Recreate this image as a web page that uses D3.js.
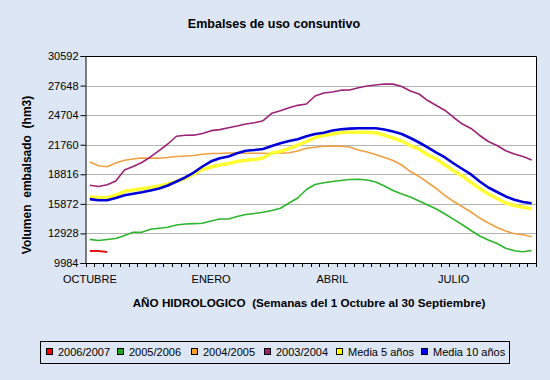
<!DOCTYPE html>
<html>
<head>
<meta charset="utf-8">
<title>Embalses de uso consuntivo</title>
<script src="https://cdn.jsdelivr.net/npm/d3@7/dist/d3.min.js"></script>
<style>
  body { margin: 0; background: #dce6f4; }
  svg { display: block; font-family: "Liberation Sans", Arial, sans-serif; }
</style>
</head>
<body>
<script>
// weeks of the hydrological year (1 Oct - 30 Sep)
const weeks = d3.range(52);
const monthLabels = ["OCTUBRE", "ENERO", "ABRIL", "JULIO"];
const monthWeeks = [0, 14, 28, 42];
const yTicks = [9984, 12928, 15872, 18816, 21760, 24704, 27648, 30592];

// volumen embalsado (hm3), one value per week
const v2006 = [11180, 11170, 11080];
const v2005 = [12340, 12220, 12320, 12420, 12720, 13040, 13040, 13340, 13440, 13540,
  13770, 13870, 13900, 13940, 14170, 14370, 14370, 14610, 14810, 14910,
  15030, 15210, 15430, 15960, 16460, 17300, 17800, 17980, 18100, 18200,
  18300, 18320, 18250, 18050, 17650, 17200, 16850, 16560, 16160, 15760,
  15360, 14860, 14320, 13790, 13220, 12670, 12270, 11930, 11450, 11200,
  11110, 11230];
const v2004 = [20040, 19670, 19570, 19940, 20210, 20340, 20440, 20410, 20420, 20490,
  20590, 20640, 20690, 20810, 20890, 20890, 20940, 20940, 20910, 20910,
  20910, 20890, 20910, 20960, 21140, 21400, 21510, 21600, 21630, 21610,
  21530, 21230, 21040, 20790, 20490, 20190, 19740, 19090, 18600, 18000,
  17400, 16700, 16110, 15590, 15060, 14460, 13970, 13520, 13170, 12890,
  12790, 12600];
const v2003 = [17730, 17600, 17770, 18150, 19240, 19590, 19990, 20540, 21180, 21830,
  22600, 22700, 22710, 22880, 23160, 23260, 23450, 23620, 23820, 23950,
  24150, 24890, 25150, 25450, 25680, 25810, 26610, 26910, 27010, 27190,
  27210, 27430, 27610, 27710, 27800, 27790, 27560, 27110, 26810, 26160,
  25670, 25170, 24470, 23820, 23380, 22680, 22080, 21680, 21160, 20840,
  20590, 20240];
const media5 = [16560, 16510, 16490, 16750, 17120, 17250, 17380, 17500, 17650, 17850,
  18100, 18400, 18850, 19290, 19540, 19740, 19890, 20090, 20210, 20290,
  20440, 20940, 21090, 21380, 21730, 22080, 22480, 22680, 22830, 22980,
  23000, 23000, 23000, 22950, 22700, 22430, 22130, 21680, 21330, 20740,
  20340, 19740, 19140, 18650, 18000, 17400, 16850, 16410, 15960, 15710,
  15530, 15390];
const media10 = [16340, 16230, 16230, 16460, 16730, 16880, 17030, 17200, 17400, 17700,
  18100, 18500, 18990, 19590, 20110, 20410, 20590, 20910, 21160, 21230,
  21330, 21630, 21900, 22130, 22300, 22600, 22830, 22960, 23180, 23300,
  23360, 23400, 23400, 23400, 23280, 23080, 22830, 22430, 21980, 21500,
  20970, 20490, 19890, 19340, 18800, 18100, 17500, 17050, 16610, 16280,
  16060, 15930];

const seriesNames = ["2006/2007", "2005/2006", "2004/2005", "2003/2004", "Media 5 años", "Media 10 años"];
const seriesValues = [v2006, v2005, v2004, v2003, media5, media10];
const seriesColors = ["#ff0000", "#1fa51f", "#f5a030", "#99206e", "#ffff00", "#0000ff"];
const lineColors = ["#e01818", "#2db52d", "#f0a040", "#9b2377", "#ffff33", "#0000d8"];
const lineWidths = [2, 1.6, 1.6, 1.6, 3.5, 2.6];

const W = 550, H = 380;
const plot = { left: 85.5, right: 536, top: 56, bottom: 263 };

const svg = d3.select("body").append("svg")
  .attr("width", W)
  .attr("height", H);

svg.append("rect")
  .attr("width", W).attr("height", H)
  .attr("fill", "#dce6f4");

// scales
const x = d3.scaleBand()
  .domain(weeks)
  .range([plot.left, plot.right]);

const y = d3.scaleLinear()
  .domain([yTicks[0], yTicks[yTicks.length - 1]])
  .range([plot.bottom, plot.top]);

// plot area
svg.append("rect")
  .attr("x", plot.left).attr("y", plot.top)
  .attr("width", plot.right - plot.left)
  .attr("height", plot.bottom - plot.top)
  .attr("fill", "#ffffff");

// gridlines
svg.append("g")
  .selectAll("line")
  .data(yTicks.slice(1, -1))
  .enter()
  .append("line")
  .attr("x1", plot.left).attr("x2", plot.right)
  .attr("y1", d => Math.round(y(d)) + 0.5)
  .attr("y2", d => Math.round(y(d)) + 0.5)
  .attr("stroke", "#b4b4b4")
  .attr("stroke-width", 1);

// lines
const line = d3.line()
  .x((d, i) => x(i) + x.bandwidth() / 2)
  .y(d => y(d));

svg.append("g")
  .selectAll("path")
  .data(seriesValues)
  .enter()
  .append("path")
  .attr("d", d => line(d))
  .attr("fill", "none")
  .attr("stroke", (d, i) => lineColors[i])
  .attr("stroke-width", (d, i) => lineWidths[i])
  .attr("stroke-linejoin", "round");

// plot border (top / right)
svg.append("path")
  .attr("d", `M${plot.left},${plot.top + 0.5}H${plot.right + 0.5}V${plot.bottom}`)
  .attr("fill", "none")
  .attr("stroke", "#000");

// y axis
const yAxis = d3.axisLeft(y)
  .tickValues(yTicks)
  .tickSize(5)
  .tickPadding(2)
  .tickFormat(d3.format("d"));

svg.append("g")
  .attr("transform", `translate(${plot.left},0)`)
  .call(yAxis)
  .call(g => g.selectAll("text").attr("font-size", 11).attr("fill", "#000").attr("font-family", null))
  .call(g => g.selectAll("line, path").attr("stroke", "#000"));

// x axis: ticks between weeks
const xTickPos = d3.range(53).map(i => plot.left + i * x.step());
const xg = svg.append("g");
xg.append("line")
  .attr("x1", plot.left).attr("x2", plot.right + 0.5)
  .attr("y1", plot.bottom + 0.5).attr("y2", plot.bottom + 0.5)
  .attr("stroke", "#000");
xg.selectAll(".tk")
  .data(xTickPos)
  .enter()
  .append("line")
  .attr("x1", d => Math.round(d) + 0.5).attr("x2", d => Math.round(d) + 0.5)
  .attr("y1", plot.bottom).attr("y2", plot.bottom + 4)
  .attr("stroke", "#000");

xg.selectAll("text")
  .data(monthLabels)
  .enter()
  .append("text")
  .attr("x", (d, i) => x(monthWeeks[i]) + x.bandwidth() / 2)
  .attr("y", 283)
  .attr("text-anchor", "middle")
  .attr("font-size", 11)
  .text(d => d);

// titles
svg.append("text")
  .attr("x", 274).attr("y", 28)
  .attr("text-anchor", "middle")
  .attr("font-size", 12.5)
  .attr("font-weight", "bold")
  .text("Embalses de uso consuntivo");

svg.append("text")
  .attr("x", 309).attr("y", 307)
  .attr("text-anchor", "middle")
  .attr("font-size", 11.7)
  .attr("font-weight", "bold")
  .style("white-space", "pre")
  .text("AÑO HIDROLOGICO  (Semanas del 1 Octubre al 30 Septiembre)");

svg.append("text")
  .attr("transform", "translate(31,175) rotate(-90)")
  .attr("text-anchor", "middle")
  .attr("font-size", 12)
  .attr("font-weight", "bold")
  .style("white-space", "pre")
  .text("Volumen  embalsado  (hm3)");

// legend
const legendX = [58, 129, 203, 276, 348, 433];
const legend = svg.append("g");
legend.append("rect")
  .attr("x", 40.5).attr("y", 341.5)
  .attr("width", 469).attr("height", 22)
  .attr("fill", "#dce6f4")
  .attr("stroke", "#000");

const items = legend.selectAll(".item")
  .data(seriesNames)
  .enter()
  .append("g");

items.append("rect")
  .attr("x", (d, i) => legendX[i] - 11.5)
  .attr("y", 348.5)
  .attr("width", 6).attr("height", 6)
  .attr("fill", (d, i) => seriesColors[i])
  .attr("stroke", "#000");

items.append("text")
  .attr("x", (d, i) => legendX[i])
  .attr("y", 356)
  .attr("font-size", 11)
  .text(d => d);
</script>
</body>
</html>
